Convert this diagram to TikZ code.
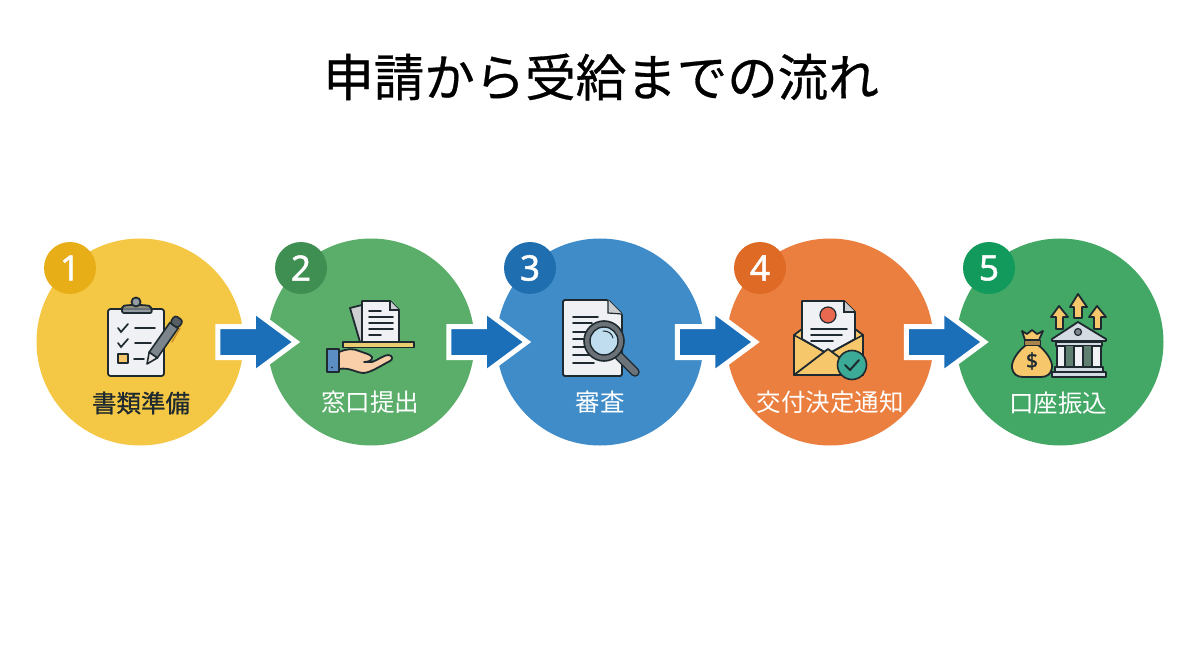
\documentclass[tikz,border=0pt]{standalone}
\usepackage{fontspec}
\usetikzlibrary{shapes.arrows,calc}
\newfontfamily\cjk{Noto Sans CJK JP}
\newfontfamily\cjkmid{Noto Sans CJK JP}[FakeBold=0.6]
\newfontfamily\cjkstrong{Noto Sans CJK JP}[FakeBold=0.8]
\newfontfamily\digitfont{Noto Sans}
\newfontfamily\digitbold{Noto Sans}[FakeBold=1.4]
\definecolor{ink}{HTML}{1F2A30}
\definecolor{paperc}{HTML}{EFF1F4}
\definecolor{goldc}{HTML}{F6C76B}
\definecolor{grayc}{HTML}{7C858B}
\definecolor{flowblue}{HTML}{1B6FB8}
\definecolor{HandTray}{HTML}{E8CE70}
\definecolor{HandSkin}{HTML}{F8CFA8}
\definecolor{CuffBlue}{HTML}{5B8FC4}
\definecolor{GlassGray}{HTML}{6B7378}
\definecolor{GlassBlue}{HTML}{BFDDEF}
\definecolor{EnvBack}{HTML}{F6C76B}
\definecolor{SealRed}{HTML}{E8694F}
\definecolor{TealC}{HTML}{3BAA96}
\definecolor{BankGray}{HTML}{D5DBE2}
\definecolor{BankGap}{HTML}{5F7F70}
\definecolor{BagBand}{HTML}{A8834A}
\definecolor{ClipOrange}{HTML}{C98A20}
\definecolor{dA}{HTML}{F4C744}\definecolor{bA}{HTML}{E8AE18}
\definecolor{dB}{HTML}{5BAE6A}\definecolor{bB}{HTML}{3F8F52}
\definecolor{dC}{HTML}{3F8CC8}\definecolor{bC}{HTML}{1F6FB0}
\definecolor{dD}{HTML}{EB7F3F}\definecolor{bD}{HTML}{DE6A25}
\definecolor{dE}{HTML}{43A865}\definecolor{bE}{HTML}{119A5C}
\tikzset{
  disc/.style={circle,minimum size=207pt,inner sep=0pt,fill=#1},
  badge/.style={circle,minimum size=52pt,inner sep=0pt,fill=#1,text=white,font=\digitbold\fontsize{35}{35}\selectfont},
  steplabel/.style={text=white,inner sep=0pt,font=\cjk\fontsize{24.5}{24.5}\selectfont},
  flow/.style={single arrow,draw=white,line width=5pt,fill=flowblue,inner sep=0pt,inner ysep=13pt,minimum width=58pt,minimum height=78pt,single arrow head extend=16pt,single arrow tip angle=73,single arrow head indent=0pt},
  ic/.style={draw=ink,line width=1.8pt,line join=round},
  il/.style={draw=ink,line width=1.7pt,line cap=round},
}
\begin{document}
\begin{tikzpicture}[x=1pt,y=-1pt]
\useasboundingbox (0,0) rectangle (1200,655);
\fill[white] (0,0) rectangle (1200,655);
\node[font=\cjkmid\fontsize{50.5}{50.5}\selectfont,text=black,inner sep=0pt] (title) at (601,77) {申請から受給までの流れ};
% discs
\node[disc=dA] (c1) at (140,342) {};
\node[disc=dB] (c2) at (371,342) {};
\node[disc=dC] (c3) at (600,342) {};
\node[disc=dD] (c4) at (830,342) {};
\node[disc=dE] (c5) at (1060,342) {};
% badges
\node[badge=bA] (b1) at (70,268) {1};
\node[badge=bB] (b2) at (301,268) {2};
\node[badge=bC] (b3) at (530,268) {3};
\node[badge=bD] (b4) at (760,268) {4};
\node[badge=bE] (b5) at (989,268) {5};
% block arrows between the steps
\path (c1) -- (c2) node[flow,pos=.5,xshift=-9pt] (a1) {};
\path (c2) -- (c3) node[flow,pos=.5,xshift=-8pt] (a2) {};
\path (c3) -- (c4) node[flow,pos=.5,xshift=-9pt] (a3) {};
\path (c4) -- (c5) node[flow,pos=.5,xshift=-10pt] (a4) {};
% labels
\node[steplabel,text=ink,font=\cjkstrong\fontsize{24.5}{24.5}\selectfont] (l1) at (141,403) {書類準備};
\node[steplabel] (l2) at (370,402) {窓口提出};
\node[steplabel] (l3) at (600,402) {審査};
\node[steplabel] (l4) at (830,402) {交付決定通知};
\node[steplabel] (l5) at (1058,403) {口座振込};
% icon 1: clipboard
\draw[ic,fill=paperc,rounded corners=2.5pt] (108,309) rectangle (164,376);
\draw[ic,fill=grayc,fill opacity=.8,rounded corners=2pt] (122,313) -- (122,306) -- (130,305) -- (142,305) -- (151,306) -- (152,313) -- cycle;
\draw[ic,fill=grayc!80] (136,302) circle (4.5pt);
\draw[il] (118,328) -- (121,332) -- (128,324);
\draw[il] (135,328) -- (155,328);
\draw[il] (118,343) -- (121,347) -- (128,339);
\draw[il] (135,343) -- (151,343);
\draw[ic,fill=goldc] (118,354) rectangle (128,363);
\draw[il] (134,359) -- (144,359);
\begin{scope}[shift={(147,364)},rotate=55]
  \filldraw[fill=white!90!black,draw=ink,line width=1.6pt,line join=round] (0,0) -- (11,-5) -- (11,5) -- cycle;
  \filldraw[fill=grayc,draw=ink,line width=1.6pt] (11,-5) rectangle (47,5);
  \filldraw[fill=ink!75,draw=ink,line width=1.6pt,rounded corners=3pt] (47,-5) -- (56,-5) -- (56,5) -- (47,5) -- cycle;
\end{scope}
\draw[draw=ClipOrange,line width=1.3pt,line cap=round] (180,328) -- (172,342);
% icon 2: hand with papers
\draw[ic,fill=black!14!paperc] (350,308) -- (362,305) -- (372,342) -- (360,342) -- cycle;
\draw[ic,fill=paperc] (362,342) -- (362,301) -- (390,301) -- (399,310) -- (399,342) -- cycle;
\draw[line width=1.2pt,draw=ink,fill=black!15!paperc] (390,301) -- (390,310) -- (399,310);
\draw[il] (369,311) -- (381,311);
\draw[il] (369,317) -- (393,317);
\draw[il] (369,323) -- (393,323);
\draw[il] (369,329) -- (393,329);
\draw[il] (369,335) -- (381,335);
\draw[ic,fill=HandTray] (343,342) rectangle (414,347.5);
\draw[ic,fill=HandSkin] (339,352) .. controls (346,349) and (353,348) .. (359,351) .. controls (364,353) and (370,354) .. (372,357) .. controls (373,361) and (367,362) .. (364,362) -- (372,362) .. controls (378,360) and (384,355) .. (388,355) .. controls (393,355) and (393,360) .. (390,361) .. controls (382,365) and (372,372) .. (364,373) .. controls (356,373) and (350,367) .. (339,369) -- cycle;
\draw[ic,fill=CuffBlue] (327,349) rectangle (339,372);
\fill[ink] (332,367.5) circle (1pt);
% icon 3: document and magnifier
\draw[ic,fill=paperc,rounded corners=1.5pt] (563,300) -- (608,300) -- (622,314) -- (622,376) -- (563,376) -- cycle;
\draw[line width=1.2pt,draw=ink,fill=black!15!paperc] (608,300) -- (608,313) -- (622,314);
\draw[il] (573,317) -- (598,317);
\draw[il] (573,323) -- (592,323);
\draw[il] (573,332) -- (590,332);
\draw[il] (573,339) -- (586,339);
\draw[il] (573,347) -- (586,347);
\draw[il] (573,355) -- (590,355);
\draw[il] (573,363) -- (594,363);
\draw[draw=ink,line width=9.5pt,line cap=round] (619,356) -- (635,372);
\draw[draw=GlassGray,line width=6.5pt,line cap=round] (619,356) -- (635,372);
\draw[draw=ink,fill=GlassGray,line width=1.6pt] (604,341) circle (20pt);
\draw[draw=ink,fill=GlassBlue,line width=1.4pt] (604,341) circle (14pt);
\draw[draw=ink,line width=1pt,line cap=round] (603,331) .. controls (608,331) and (612,333) .. (613,338);
% icon 4: envelope
\draw[ic,fill=EnvBack] (794,335) -- (802,329) -- (855,329) -- (863,335) -- (863,375) -- (794,375) -- cycle;
\draw[ic,fill=paperc] (802,339) -- (802,301) -- (844,301) -- (855,312) -- (855,339) -- (828,354) -- cycle;
\draw[line width=1.2pt,draw=ink,fill=black!15!paperc] (844,301) -- (844,312) -- (855,312);
\draw[draw=ink,line width=1.2pt,fill=SealRed] (828,315) circle (8pt);
\draw[il] (811,329) -- (847,329);
\draw[il] (811,335) -- (842,335);
\draw[il] (811,341) -- (833,341);
\draw[draw=ink,line width=1.5pt] (794,335) -- (828,354) -- (863,335);
\draw[ic,fill=goldc] (794,375) -- (828,349) -- (863,375) -- cycle;
\draw[draw=ink,line width=1.6pt,fill=TealC] (852,365) circle (14.5pt);
\draw[draw=ink,line width=2pt,line cap=round,line join=round] (845,365) -- (850,370) -- (859,360);
% icon 5: money bag, bank and arrows
\draw[ic,fill=goldc] (1078,294) -- (1087,307) -- (1082,307) -- (1082,318) -- (1074,318) -- (1074,307) -- (1070,307) -- cycle;
\draw[ic,fill=goldc] (1059,306) -- (1068,317) -- (1063,317) -- (1063,329) -- (1056,329) -- (1056,317) -- (1051,317) -- cycle;
\draw[ic,fill=goldc] (1097,306) -- (1106,317) -- (1101,317) -- (1101,329) -- (1094,329) -- (1094,317) -- (1089,317) -- cycle;
\draw[ic,fill=BankGray] (1052,339) -- (1078,322) -- (1106,339) -- (1106,341) -- (1052,341) -- cycle;
\draw[draw=ink,line width=1.2pt,fill=grayc] (1078,332) circle (3.5pt);
\draw[ic,fill=BankGray] (1056,342) rectangle (1102,346);
\fill[BankGap] (1056,346) rectangle (1102,367);
\foreach \xa/\xb in {1057/1065,1074/1083,1092/1101}
  \draw[draw=ink,line width=1.4pt,fill=paperc] (\xa,346) rectangle (\xb,367);
\draw[ic,fill=BankGray] (1055,367) rectangle (1103,372);
\draw[ic,fill=BankGray] (1052,372) rectangle (1106,377);
\draw[ic,fill=goldc] (1026,345) .. controls (1018,351) and (1011,361) .. (1012,368) .. controls (1013,374) and (1017,377) .. (1023,377) -- (1041,377) .. controls (1047,377) and (1051,374) .. (1052,368) .. controls (1053,361) and (1046,351) .. (1038,345) -- cycle;
\draw[ic,fill=goldc] (1022,331) -- (1027,334) -- (1032,330) -- (1037,334) -- (1043,331) -- (1039,340) -- (1025,340) -- cycle;
\draw[draw=ink,line width=1pt,fill=BagBand] (1024,340) rectangle (1040,345);
\node[text=ink,inner sep=0pt,font=\digitbold\fontsize{21}{21}\selectfont] (dollar) at (1032,361) {\$};
\end{tikzpicture}
\end{document}
